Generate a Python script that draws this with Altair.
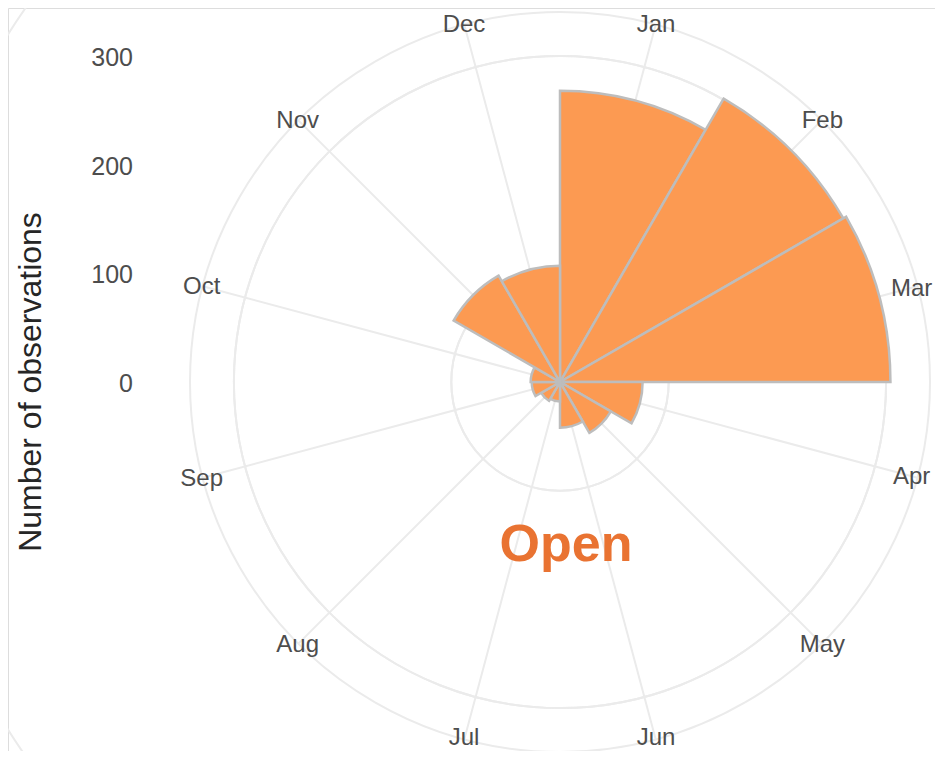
import math
import altair as alt
import pandas as pd

# ---- data ----
months = ["Jan", "Feb", "Mar", "Apr", "May", "Jun",
          "Jul", "Aug", "Sep", "Oct", "Nov", "Dec"]
counts = [268, 301, 304, 76, 54, 42, 18, 20, 26, 27, 113, 107]
r_ticks = [0, 100, 200, 300]
ring_values = [100, 200, 300]
panel_label = "Open"
axis_title = "Number of observations"

# ---- layout constants ----
CX, CY = 552, 374          # centre of the polar panel (plot coords)
OUTER = 370                # outer panel circle (px)
LABEL_R = 371              # month label radius (px)
PX_PER_UNIT = 1.087
FONT = "Liberation Sans"
FILL = "#FC9A52"
EDGE = "#BDBDBD"
GRID = "#EBEBEB"

df = pd.DataFrame({
    "month": months,
    "start": list(range(12)),
    "end": [i + 1 for i in range(12)],
    "mid": [i + 0.5 for i in range(12)],
    "count": counts,
})
rings = pd.DataFrame({"r": ring_values})
ticks = pd.DataFrame({"v": r_ticks, "lab": [str(v) for v in r_ticks]})
one = pd.DataFrame({"k": [0]})

theta_scale = alt.Scale(domain=[0, 12], range=[0, 2 * math.pi])
r_scale = alt.Scale(type="linear", domain=[0, 300], range=[0, 300 * PX_PER_UNIT], zero=True)
y_scale = alt.Scale(domain=[0, 300], range=[CY, CY - 300 * PX_PER_UNIT])

ring_layer = alt.Chart(rings).mark_arc(
    x=CX, y=CY, theta=0, theta2=2 * math.pi, filled=False,
    stroke=GRID, strokeWidth=2
).encode(radius=alt.Radius("r:Q", scale=r_scale))

# outer boundary of the polar panel
outer_layer = alt.Chart(df).mark_arc(
    x=CX, y=CY, radius=OUTER, filled=False, stroke=GRID, strokeWidth=2
).encode(
    theta=alt.Theta("start:Q", scale=theta_scale, stack=False),
    theta2="end:Q",
    radius2=alt.value(OUTER),
)

spokes = alt.Chart(df).mark_arc(
    x=CX, y=CY, radius=OUTER, filled=False, stroke=GRID, strokeWidth=2
).encode(
    theta=alt.Theta("mid:Q", scale=theta_scale, stack=False),
    theta2="mid:Q",
)

bars = alt.Chart(df).mark_arc(
    x=CX, y=CY, fill=FILL, stroke=EDGE, strokeWidth=2.5
).encode(
    theta=alt.Theta("start:Q", scale=theta_scale, stack=False),
    theta2="end:Q",
    radius=alt.Radius("count:Q", scale=r_scale),
)

side = ["Mar", "Apr"]
bottom = ["Jun", "Jul"]

def month_text(sub, radius, dy):
    return alt.Chart(sub).mark_text(
        x=CX, y=CY, radius=radius, font=FONT, fontSize=24, color="#4D4D4D",
        align="center", baseline="middle", dy=dy
    ).encode(
        theta=alt.Theta("mid:Q", scale=theta_scale, stack=False),
        text="month:N",
    )

labels_main = month_text(df[~df.month.isin(side + bottom)], LABEL_R, 1)
labels_side = month_text(df[df.month.isin(side)], LABEL_R - 7, 1)
labels_bottom = month_text(df[df.month.isin(bottom)], LABEL_R, -2)

tick_labels = alt.Chart(ticks).mark_text(
    x=125, font=FONT, fontSize=25, color="#4D4D4D",
    align="right", baseline="middle", dy=2
).encode(
    y=alt.Y("v:Q", scale=y_scale, axis=None),
    text="lab:N",
)

title = alt.Chart(one).mark_text(
    text=axis_title, font=FONT, fontSize=32, color="#262626",
    angle=270, align="center", baseline="middle"
).encode(x=alt.value(23), y=alt.value(CY))

open_label = alt.Chart(one).mark_text(
    text=panel_label, font=FONT, fontSize=52, fontWeight="bold",
    color="#E97332", align="center", baseline="alphabetic"
).encode(x=alt.value(558), y=alt.value(553))

chart = alt.layer(
    ring_layer, outer_layer, spokes, bars, labels_main, labels_side, labels_bottom,
    tick_labels, title, open_label
).properties(
    width=927, height=743, padding=0,
    autosize=alt.AutoSizeParams(type="none"),
).configure_view(stroke=None, fill=None).configure(background="white")

chart.save("out.html", embed_options={"renderer": "svg", "actions": False})
